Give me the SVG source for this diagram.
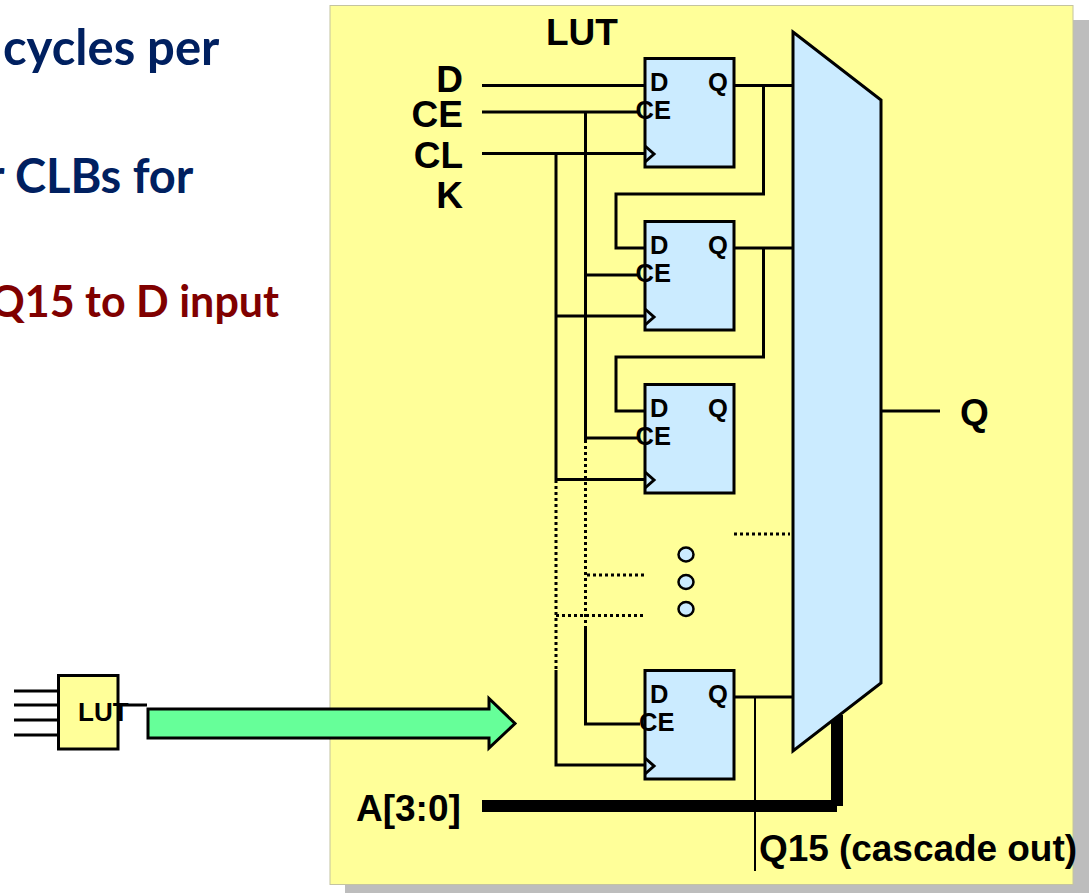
<svg xmlns="http://www.w3.org/2000/svg" width="1092" height="894" viewBox="0 0 1092 894">
<style>
.w{fill:none;stroke:#000;stroke-width:3}
.d{fill:none;stroke:#000;stroke-width:3;stroke-dasharray:3 3}
.ff{fill:#cbebff;stroke:#000;stroke-width:3}
.t{font-family:"Liberation Sans",Arial,sans-serif;font-weight:700;fill:#000}
.l{font-size:37px}
.s{font-size:25.500px}
.b{font-family:Lato,"Noto Sans",sans-serif;font-weight:700}
</style>
<rect width="1092" height="894" fill="#fff"/>
<g id="left-text">
<text class="b" font-size="49" x="3" y="65" fill="#002060">cycles per</text>
<text class="b" font-size="47" x="-13" y="193" fill="#002060">r CLBs for</text>
<text class="b" font-size="43" x="-10" y="317" fill="#800000">Q15 to D input</text>
</g>
<g id="panel">
<rect x="345" y="20" width="744" height="873" fill="#bdbdbd"/>
<rect x="330" y="5.500" width="743" height="879" fill="#ffff99" stroke="#c4c4a0" stroke-width="1"/>
</g>
<g id="connectors">
<path class="w" d="M482 85.500H645M482 112H640M482 153.500H645"/>
<path class="w" d="M556 153V480M585.500 112V440M556 670V765H645M585.500 628V724H640"/>
<path class="d" d="M556 480V670M585.500 440V628"/>
<path class="w" d="M556 316H645M556 479.500H645M585.500 275H640M585.500 438H640"/>
<path class="d" d="M587 575H645M556 615.500H645M734 534H790"/>
<path class="w" d="M734 85.500H793M763.500 85V194H616V248H645M734 248H793M763.500 248V357H616V411H645M734 697H793M881 411H940"/>
<path fill="none" stroke="#000" stroke-width="2" d="M755 697V871"/>
<path fill="none" stroke="#000" stroke-width="12" d="M482 806H837M837 715V806"/>
<path class="w" d="M14 691H59M14 705H59M14 720H59M14 735H59M118 705H147"/>
</g>
<g id="ff1"><rect class="ff" x="645" y="58.500" width="89" height="108.500"/><path class="w" d="M645 146L654 154L645 162"/>
<text class="t s" x="650" y="90.500">D</text><text class="t s" x="708" y="90.500">Q</text><text class="t s" x="635.500" y="118.500">CE</text></g>
<g id="ff2"><rect class="ff" x="645" y="221.500" width="89" height="108.500"/><path class="w" d="M645 309L654 317L645 325"/>
<text class="t s" x="650" y="253.500">D</text><text class="t s" x="708" y="253.500">Q</text><text class="t s" x="635.500" y="281.500">CE</text></g>
<g id="ff3"><rect class="ff" x="645" y="384.500" width="89" height="108.500"/><path class="w" d="M645 472L654 480L645 488"/>
<text class="t s" x="650" y="416.500">D</text><text class="t s" x="708" y="416.500">Q</text><text class="t s" x="635.500" y="444.500">CE</text></g>
<g id="ff4"><rect class="ff" x="645" y="670.500" width="89" height="108.500"/><path class="w" d="M645 758L654 766L645 774"/>
<text class="t s" x="650" y="702.500">D</text><text class="t s" x="708" y="702.500">Q</text><text class="t s" x="639" y="730.500">CE</text></g>
<g id="mux"><polygon points="793,32 881,100 881,683 793,751" fill="#cbebff" stroke="#000" stroke-width="3"/></g>
<g id="dots">
<ellipse cx="686" cy="554.500" rx="7.500" ry="7" fill="#cbebff" stroke="#000" stroke-width="2.500"/>
<ellipse cx="686" cy="582" rx="7.500" ry="7" fill="#cbebff" stroke="#000" stroke-width="2.500"/>
<ellipse cx="686" cy="609" rx="7.500" ry="7" fill="#cbebff" stroke="#000" stroke-width="2.500"/>
</g>
<g id="labels">
<text class="t l" x="546" y="45">LUT</text>
<text class="t l" x="463" y="92" text-anchor="end">D</text>
<text class="t l" x="463" y="127" text-anchor="end">CE</text>
<text class="t l" x="463" y="168" text-anchor="end">CL</text>
<text class="t l" x="463" y="208" text-anchor="end">K</text>
<text class="t l" x="960" y="425">Q</text>
<text class="t l" x="356" y="821">A[3:0]</text>
<text class="t l" x="759" y="861" textLength="318">Q15 (cascade out)</text>
</g>
<g id="small-lut"><rect x="58.500" y="675.500" width="59.500" height="73.500" fill="#ffff99" stroke="#000" stroke-width="3"/>
<text class="t" font-size="26" x="78" y="721">LUT</text></g>
<g id="arrow"><polygon points="148,709 489,709 489,698.500 515,723.500 489,748 489,738 148,738" fill="#66ff99" stroke="#000" stroke-width="3"/></g>
</svg>
